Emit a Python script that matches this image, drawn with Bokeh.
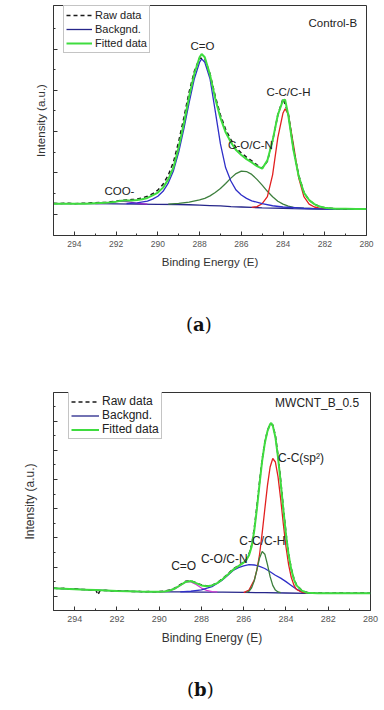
from bokeh.plotting import figure
from bokeh.models import Range1d, FixedTicker, Legend, LegendItem, Label, Div
from bokeh.layouts import column
from bokeh.embed import file_html
from bokeh.resources import INLINE

FONT = "Liberation Sans"

# ---------------- Panel (a): Control-B ----------------
x_ticks = [280, 282, 284, 286, 288, 290, 292, 294]
x_minor = [281, 283, 285, 287, 289, 291, 293]

a_fit_E = [295, 294.5, 294, 293.5, 293, 292.5, 292, 291.75, 291.5, 291.25, 291, 290.75, 290.5, 290.25, 290,
           289.75, 289.5, 289.25, 289, 288.75, 288.5, 288.25, 288, 287.9, 287.75, 287.5, 287.25, 287, 286.75,
           286.5, 286.25, 286, 285.75, 285.5, 285.25, 285, 284.75, 284.5, 284.25, 284, 283.9, 283.75, 283.5,
           283.25, 283, 282.75, 282.5, 282.25, 282, 281.5, 281, 280.5, 280]
a_fit_I = [0.25, 0.25, 0.25, 0.25, 0.26, 0.27, 0.30, 0.32, 0.33, 0.33, 0.34, 0.36, 0.39, 0.45, 0.52,
           0.64, 0.84, 1.13, 1.62, 2.20, 2.85, 3.40, 3.80, 3.88, 3.80, 3.38, 2.80, 2.33, 1.98,
           1.74, 1.55, 1.43, 1.33, 1.25, 1.16, 1.10, 1.30, 1.78, 2.40, 2.76, 2.77, 2.40, 1.55,
           0.92, 0.52, 0.34, 0.24, 0.18, 0.15, 0.13, 0.13, 0.12, 0.12]

a_raw_E = [295, 294.75, 294.5, 294.25, 294, 293.75, 293.5, 293.25, 293, 292.75, 292.5, 292.25, 292, 291.75,
           291.5, 291.25, 291, 290.75, 290.5, 290.25, 290, 289.75, 289.5, 289.25, 289, 288.75, 288.5, 288.25,
           288, 287.75, 287.5, 287.25, 287, 286.75, 286.5, 286.25, 286, 285.75, 285.5, 285.25, 285, 284.75,
           284.5, 284.25, 284, 283.75, 283.5, 283.25, 283, 282.75, 282.5, 282.25, 282, 281.75, 281.5, 281.25,
           281, 280.75, 280.5, 280.25, 280]
a_raw_I = [0.26, 0.25, 0.26, 0.26, 0.25, 0.26, 0.26, 0.27, 0.27, 0.28, 0.28, 0.30, 0.31, 0.33,
           0.34, 0.35, 0.36, 0.39, 0.43, 0.49, 0.58, 0.72, 0.94, 1.26, 1.76, 2.34, 2.96, 3.46,
           3.78, 3.76, 3.40, 2.86, 2.40, 2.05, 1.80, 1.61, 1.48, 1.38, 1.29, 1.19, 1.11, 1.28,
           1.77, 2.40, 2.80, 2.44, 1.57, 0.94, 0.53, 0.33, 0.24, 0.18, 0.15, 0.14, 0.13, 0.13,
           0.12, 0.13, 0.12, 0.12, 0.12]

a_bg_E = [295, 294, 293, 292, 291, 290, 289, 288.5, 288, 287.5, 287, 286.5, 286, 285.5, 285, 284.5, 284,
          283.5, 283, 282, 281, 280]
a_bg_I = [0.25, 0.25, 0.25, 0.245, 0.24, 0.235, 0.23, 0.225, 0.215, 0.205, 0.195, 0.18, 0.17, 0.16, 0.15,
          0.145, 0.14, 0.13, 0.125, 0.12, 0.12, 0.12]

a_coo_E = [293.0, 292.5, 292.25, 292.0, 291.75, 291.5, 291.25, 291.0, 290.5]
a_coo_I = [0.25, 0.26, 0.28, 0.30, 0.31, 0.30, 0.28, 0.26, 0.24]

a_co_E = [291.5, 291.0, 290.5, 290.25, 290.0, 289.75, 289.5, 289.25, 289.0, 288.75, 288.5, 288.25, 288.0,
          287.9, 287.75, 287.5, 287.25, 287.0, 286.75, 286.5, 286.25, 286.0, 285.75, 285.5, 285.0, 284.5,
          284.0, 283.0, 282.0, 281.0, 280.0]
a_co_I = [0.25, 0.27, 0.31, 0.36, 0.43, 0.55, 0.75, 1.05, 1.50, 2.07, 2.70, 3.28, 3.68,
          3.76, 3.68, 3.28, 2.50, 1.70, 1.12, 0.80, 0.58, 0.46, 0.38, 0.32, 0.25, 0.20,
          0.17, 0.14, 0.12, 0.12, 0.12]

a_cocn_E = [289.5, 289.0, 288.5, 288.0, 287.75, 287.5, 287.25, 287.0, 286.75, 286.5, 286.25, 286.0, 285.75,
            285.5, 285.25, 285.0, 284.75, 284.5, 284.25, 284.0, 283.75, 283.5, 283.0, 282.5, 282.0]
a_cocn_I = [0.24, 0.26, 0.29, 0.34, 0.38, 0.44, 0.52, 0.62, 0.74, 0.87, 0.98, 1.04, 1.03,
            0.96, 0.84, 0.70, 0.55, 0.42, 0.31, 0.24, 0.19, 0.16, 0.14, 0.13, 0.12]

a_cc_E = [285.5, 285.25, 285.0, 284.75, 284.5, 284.25, 284.0, 283.9, 283.75, 283.5, 283.25, 283.0, 282.75,
          282.5, 282.25, 282.0]
a_cc_I = [0.16, 0.18, 0.25, 0.42, 0.95, 1.85, 2.45, 2.55, 2.42, 1.68, 0.88, 0.42, 0.24,
          0.17, 0.14, 0.12]

a_y_major = [0, 1, 2, 3, 4]
a_y_minor = [0.5, 1.5, 2.5, 3.5, 4.5]

# ---------------- Panel (b): MWCNT_B_0.5 ----------------
b_fit_E = [295, 294.5, 294, 293.5, 293, 292.5, 292, 291.5, 291, 290.5, 290, 289.75, 289.5, 289.25, 289,
           288.75, 288.5, 288.25, 288, 287.75, 287.5, 287.25, 287, 286.75, 286.5, 286.25, 286, 285.875,
           285.75, 285.625, 285.5, 285.375, 285.25, 285.125, 285, 284.875, 284.75, 284.7, 284.625, 284.5,
           284.375, 284.25, 284.125, 284, 283.875, 283.75, 283.625, 283.5, 283.25, 283, 282.5, 282, 281, 280]
b_fit_I = [0.27, 0.255, 0.24, 0.225, 0.21, 0.195, 0.18, 0.17, 0.16, 0.155, 0.155, 0.165, 0.195, 0.265, 0.375,
           0.49, 0.52, 0.45, 0.37, 0.34, 0.37, 0.45, 0.58, 0.74, 0.91, 1.03, 1.15, 1.24,
           1.40, 1.70, 2.25, 3.00, 3.85, 4.65, 5.25, 5.66, 5.90, 5.94, 5.85, 5.45,
           4.75, 3.90, 2.98, 2.12, 1.42, 0.92, 0.58, 0.37, 0.19, 0.12, 0.10, 0.10, 0.10, 0.10]

b_raw_E = [295, 294.75, 294.5, 294.25, 294, 293.75, 293.5, 293.25, 293, 292.9, 292.8, 292.5, 292.25, 292,
           291.75, 291.5, 291.25, 291, 290.75, 290.5, 290.25, 290, 289.75, 289.5, 289.25, 289, 288.75, 288.5,
           288.25, 288, 287.75, 287.5, 287.25, 287, 286.75, 286.5, 286.25, 286, 285.875, 285.75, 285.625,
           285.5, 285.375, 285.25, 285.125, 285, 284.875, 284.75, 284.625, 284.5, 284.375, 284.25, 284.125,
           284, 283.875, 283.75, 283.625, 283.5, 283.25, 283, 282.75, 282.5, 282, 281.5, 281, 280.5, 280]
b_raw_I = [0.28, 0.26, 0.27, 0.24, 0.26, 0.23, 0.23, 0.21, 0.22, 0.05, 0.19, 0.20, 0.18, 0.19,
           0.17, 0.18, 0.16, 0.17, 0.15, 0.16, 0.15, 0.16, 0.17, 0.21, 0.28, 0.40, 0.51, 0.53,
           0.46, 0.39, 0.35, 0.38, 0.46, 0.60, 0.76, 0.93, 1.05, 1.17, 1.27, 1.44, 1.76,
           2.33, 3.08, 3.92, 4.70, 5.28, 5.68, 5.91, 5.87, 5.50, 4.82, 3.97, 3.04,
           2.17, 1.46, 0.95, 0.60, 0.38, 0.20, 0.13, 0.11, 0.11, 0.10, 0.11, 0.10, 0.11, 0.10]

b_bg_E = [295, 294, 293, 292, 291, 290, 289, 288, 287, 286, 285, 284, 283, 282, 281, 280]
b_bg_I = [0.27, 0.24, 0.21, 0.18, 0.16, 0.15, 0.148, 0.143, 0.138, 0.13, 0.12, 0.11, 0.10, 0.10, 0.10, 0.10]

b_co_E = [290.0, 289.75, 289.5, 289.25, 289.0, 288.75, 288.6, 288.5, 288.25, 288.0, 287.75, 287.5, 287.25]
b_co_I = [0.15, 0.16, 0.19, 0.26, 0.37, 0.48, 0.50, 0.49, 0.40, 0.28, 0.20, 0.16, 0.15]

b_cocn_E = [289.0, 288.5, 288.0, 287.5, 287.0, 286.75, 286.5, 286.25, 286.0, 285.75, 285.5, 285.25, 285.0,
            284.75, 284.5, 284.25, 284.0, 283.75, 283.5, 283.25, 283.0, 282.5]
b_cocn_I = [0.15, 0.17, 0.22, 0.33, 0.56, 0.72, 0.88, 0.98, 1.04, 1.08, 1.07, 1.02, 0.95,
            0.84, 0.72, 0.62, 0.50, 0.37, 0.24, 0.15, 0.11, 0.10]

b_cch_E = [285.875, 285.75, 285.625, 285.5, 285.375, 285.25, 285.125, 285.0, 284.875, 284.75, 284.625,
           284.5, 284.375, 284.25]
b_cch_I = [0.13, 0.17, 0.29, 0.53, 0.91, 1.31, 1.53, 1.44, 1.08, 0.67, 0.37, 0.21, 0.145, 0.12]

b_sp2_E = [286.0, 285.75, 285.5, 285.375, 285.25, 285.125, 285.0, 284.875, 284.75, 284.625, 284.5, 284.375,
           284.25, 284.125, 284.0, 283.875, 283.75, 283.625, 283.5, 283.25, 283.0]
b_sp2_I = [0.12, 0.21, 0.55, 0.90, 1.43, 2.17, 2.99, 3.80, 4.43, 4.72, 4.60, 4.09,
           3.33, 2.48, 1.70, 1.08, 0.65, 0.38, 0.23, 0.14, 0.11]

b_y_major = [0, 1, 2, 3, 4, 5, 6]
b_y_minor = [0.5, 1.5, 2.5, 3.5, 4.5, 5.5, 6.5]

GREEN = "#3fdc3f"
NAVY = "#26268a"
BLUE = "#2f2fc8"
DKGREEN = "#3d7f3d"
RED = "#e22020"
PURPLE = "#9a22c8"
MAGENTA = "#d23ad2"


def make_panel(width, height, border, y_range, y_major, y_minor, tick_fs, title_fs, ylab_standoff):
    p = figure(width=width, height=height, output_backend="svg", toolbar_location=None,
               x_range=Range1d(295, 280), y_range=Range1d(*y_range),
               min_border_left=border[0], min_border_right=border[1],
               min_border_top=border[2], min_border_bottom=border[3])
    p.xgrid.visible = False
    p.ygrid.visible = False
    p.outline_line_color = "#333333"
    p.outline_line_width = 1
    p.background_fill_color = "white"
    p.border_fill_color = "white"
    xa = p.xaxis[0]
    xa.ticker = FixedTicker(ticks=x_ticks, minor_ticks=x_minor)
    xa.major_tick_in = 4
    xa.major_tick_out = 0
    xa.minor_tick_in = 2
    xa.minor_tick_out = 0
    xa.major_tick_line_color = "#333333"
    xa.minor_tick_line_color = "#333333"
    xa.axis_line_color = "#333333"
    xa.major_label_text_font = FONT
    xa.major_label_text_font_size = tick_fs
    xa.major_label_text_color = "#555555"
    xa.major_label_standoff = 5
    xa.axis_label = "Binding Energy (E)"
    xa.axis_label_text_font = FONT
    xa.axis_label_text_font_size = title_fs
    xa.axis_label_text_font_style = "normal"
    xa.axis_label_text_color = "#333333"
    xa.axis_label_standoff = 6
    ya = p.yaxis[0]
    ya.ticker = FixedTicker(ticks=y_major, minor_ticks=y_minor)
    ya.major_tick_in = 4
    ya.major_tick_out = 0
    ya.minor_tick_in = 2
    ya.minor_tick_out = 0
    ya.major_tick_line_color = "#333333"
    ya.minor_tick_line_color = "#333333"
    ya.axis_line_color = "#333333"
    ya.major_label_text_font_size = "1px"
    ya.major_label_text_color = None
    ya.major_label_standoff = 0
    ya.axis_label = "Intensity (a.u.)"
    ya.axis_label_text_font = FONT
    ya.axis_label_text_font_size = title_fs
    ya.axis_label_text_font_style = "normal"
    ya.axis_label_text_color = "#333333"
    ya.axis_label_standoff = ylab_standoff
    return p


def add_legend(p, r_raw, r_bg, r_fit, loc, fs, glyph_w, row_h):
    leg = Legend(items=[LegendItem(label="Raw data", renderers=[r_raw]),
                        LegendItem(label="Backgnd.", renderers=[r_bg]),
                        LegendItem(label="Fitted data", renderers=[r_fit])],
                 location=loc, margin=0, padding=2, spacing=0,
                 label_height=row_h, glyph_height=row_h, glyph_width=glyph_w, label_standoff=3,
                 label_text_font=FONT, label_text_font_size=fs, label_text_color="#222222",
                 border_line_color="#8a8a8a", border_line_width=1, background_fill_color="white",
                 background_fill_alpha=1.0)
    p.add_layout(leg)


def lab(p, x, y, text, fs, align="center"):
    p.add_layout(Label(x=x, y=y, text=text, text_font=FONT, text_font_size=fs, text_color="#222222",
                       text_align=align, text_baseline="middle"))


CAPTION = ("<div style=\"text-align:left;padding-left:{left}px;padding-top:{top}px;"
           "font-family:'DejaVu Serif';font-size:18px;line-height:21px;color:#111\">({b})</div>")

# ---- panel a ----
pa = make_panel(380, 290, (53, 14, 5, 55), (-0.521, 5.055), a_y_major, a_y_minor, "8.5px", "11.5px", 7)
ra_bg = pa.line(a_bg_E, a_bg_I, line_color=NAVY, line_width=1.3)
pa.line(a_coo_E, a_coo_I, line_color=PURPLE, line_width=1.3)
pa.line(a_cocn_E, a_cocn_I, line_color=DKGREEN, line_width=1.3)
pa.line(a_cc_E, a_cc_I, line_color=RED, line_width=1.3)
pa.line(a_co_E, a_co_I, line_color=BLUE, line_width=1.3)
ra_raw = pa.line(a_raw_E, a_raw_I, line_color="#1a1a1a", line_width=1.5, line_dash="4 3")
ra_fit = pa.line(a_fit_E, a_fit_I, line_color=GREEN, line_width=2)
add_legend(pa, ra_raw, ra_bg, ra_fit, (10, 182), "11px", 26, 14)
lab(pa, 280.45, 4.62, "Control-B", "11.5px", "right")
lab(pa, 287.86, 4.08, "C=O", "11.5px")
lab(pa, 283.74, 2.97, "C-C/C-H", "11.5px")
lab(pa, 285.56, 1.68, "C-O/C-N", "11.5px")
lab(pa, 291.84, 0.55, "COO-", "11.5px")

div_a = Div(text=CAPTION.format(left=186, top=24, b="<b>a</b>"), width=368, height=70, margin=0)

# ---- panel b ----
pb = make_panel(384, 300, (42, 6, 32, 50), (-0.49, 6.983), b_y_major, b_y_minor, "9px", "12px", 17)
rb_bg = pb.line(b_bg_E, b_bg_I, line_color=NAVY, line_width=1.3)
pb.line(b_co_E, b_co_I, line_color=MAGENTA, line_width=1.3)
pb.line(b_cocn_E, b_cocn_I, line_color=BLUE, line_width=1.3)
pb.line(b_sp2_E, b_sp2_I, line_color=RED, line_width=1.3)
pb.line(b_cch_E, b_cch_I, line_color=DKGREEN, line_width=1.3)
rb_raw = pb.line(b_raw_E, b_raw_I, line_color="#1a1a1a", line_width=1.5, line_dash="4 3")
rb_fit = pb.line(b_fit_E, b_fit_I, line_color=GREEN, line_width=2)
add_legend(pb, rb_raw, rb_bg, rb_fit, (15, 171), "12px", 28, 13)
lab(pb, 280.54, 6.64, "MWCNT_B_0.5", "12px", "right")
lab(pb, 288.84, 1.02, "C=O", "12px")
lab(pb, 286.92, 1.26, "C-O/C-N", "12px")
lab(pb, 285.12, 1.88, "C-C/C-H", "12px")
lab(pb, 284.375, 4.74, "C-C(sp\u00b2)", "12px", "left")

div_b = Div(text=CAPTION.format(left=187, top=19, b="<b>b</b>"), width=368, height=45, margin=0)

layout = column(pa, div_a, pb, div_b, spacing=0)
open("out.html", "w").write(file_html(layout, INLINE))
